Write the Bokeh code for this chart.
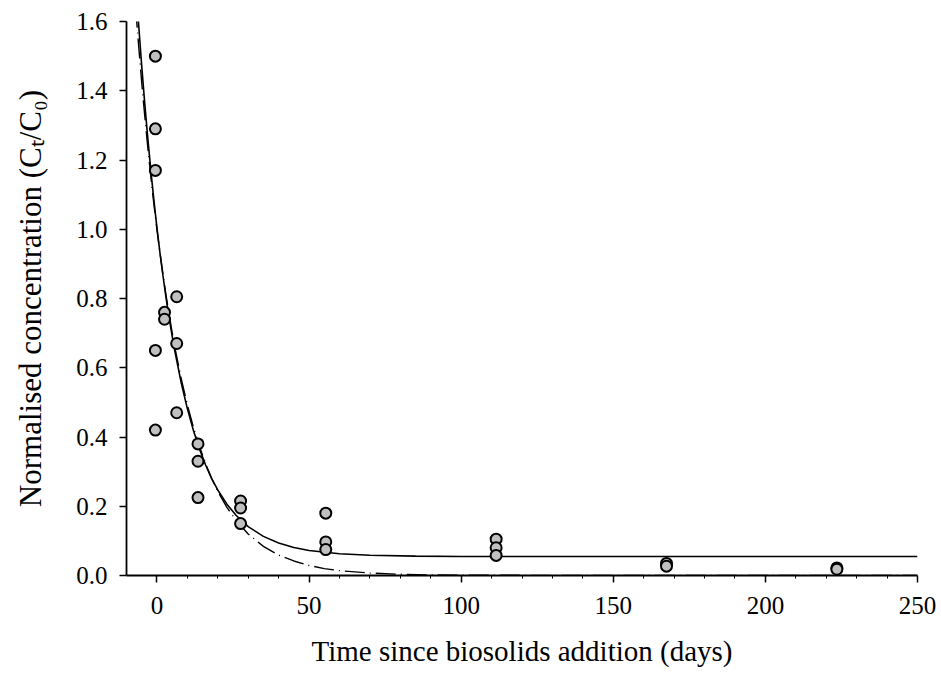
from bokeh.plotting import figure
from bokeh.models import Range1d, FixedTicker, PrintfTickFormatter
from bokeh.embed import file_html
from bokeh.resources import INLINE

# Measured data points (days, Ct/C0)
point_days = [-0.5, -0.5, -0.5, -0.5, -0.5,
              2.5, 2.5,
              6.5, 6.5, 6.5,
              13.5, 13.5, 13.5,
              27.5, 27.5, 27.5,
              55.5, 55.5, 55.5,
              111.5, 111.5, 111.5,
              167.5, 167.5,
              223.5, 223.5]
point_vals = [1.50, 1.29, 1.17, 0.65, 0.42,
              0.76, 0.74,
              0.805, 0.67, 0.47,
              0.38, 0.33, 0.225,
              0.215, 0.195, 0.15,
              0.18, 0.097, 0.075,
              0.105, 0.08, 0.058,
              0.035, 0.027,
              0.022, 0.018]

# Fitted model curve with plateau (solid)
solid_days = [-7, -6, -5, -4, -3, -2, -1, 0, 1, 2, 3, 4, 5, 6, 8, 10, 12, 14, 16, 18,
              20, 23, 26, 30, 35, 40, 45, 50, 60, 70, 85, 100, 150, 200, 250]
solid_vals = [1.718, 1.590, 1.472, 1.363, 1.263, 1.170, 1.084, 1.005, 0.932, 0.865,
              0.802, 0.745, 0.692, 0.643, 0.556, 0.482, 0.419, 0.365, 0.319, 0.280,
              0.247, 0.206, 0.174, 0.141, 0.113, 0.094, 0.081, 0.072, 0.063, 0.0585,
              0.056, 0.055, 0.055, 0.055, 0.055]

# First-order decay curve (dashed)
dash_days = [-7, -6, -5, -4, -3, -2, -1, 0, 1, 2, 3, 4, 5, 6, 8, 10, 12, 14, 16, 18,
             20, 23, 26, 30, 35, 40, 45, 50, 55, 60, 70, 80, 90, 100, 150, 250]
dash_vals = [1.640, 1.529, 1.424, 1.327, 1.236, 1.152, 1.073, 1.000, 0.932, 0.868,
             0.809, 0.754, 0.702, 0.654, 0.568, 0.493, 0.428, 0.372, 0.323, 0.280,
             0.243, 0.197, 0.159, 0.120, 0.084, 0.059, 0.042, 0.029, 0.020, 0.014,
             0.007, 0.0035, 0.0017, 0.0009, 0.0, 0.0]

x_major = [0, 50, 100, 150, 200, 250]
x_minor = [10, 20, 30, 40, 60, 70, 80, 90, 110, 120, 130, 140, 160, 170, 180, 190,
           210, 220, 230, 240]
y_major = [0.0, 0.2, 0.4, 0.6, 0.8, 1.0, 1.2, 1.4, 1.6]

FONT = "Liberation Serif"

p = figure(width=941, height=682, output_backend="svg", toolbar_location=None,
           x_range=Range1d(-10, 250), y_range=Range1d(0, 1.6),
           min_border_left=126, min_border_right=24, min_border_top=21,
           min_border_bottom=107)
p.outline_line_color = None
p.xgrid.visible = False
p.ygrid.visible = False
p.background_fill_color = "white"
p.border_fill_color = "white"

p.line(dash_days, dash_vals, line_color="black", line_width=1.4, line_dash="20 5 1 5")
p.line(solid_days, solid_vals, line_color="black", line_width=1.6)
p.scatter(point_days, point_vals, marker="circle", size=11,
          fill_color="#c0c0c0", line_color="black", line_width=2)

xa = p.xaxis[0]
xa.ticker = FixedTicker(ticks=x_major, minor_ticks=x_minor)
xa.axis_label = "Time since biosolids addition (days)"
ya = p.yaxis[0]
ya.ticker = FixedTicker(ticks=y_major)
ya.formatter = PrintfTickFormatter(format="%.1f")
ya.axis_label = "Normalised concentration (C\u209c/C\u2080)"

for ax in (xa, ya):
    ax.axis_line_color = "black"
    ax.axis_line_width = 1.8
    ax.major_tick_line_color = "black"
    ax.major_tick_line_width = 1.5
    ax.major_tick_in = 0
    ax.major_tick_out = 7
    ax.minor_tick_in = 0
    ax.minor_tick_out = 3
    ax.minor_tick_line_color = "black"
    ax.major_label_text_font = FONT
    ax.major_label_text_font_size = "25px"
    ax.major_label_text_color = "black"
    ax.axis_label_text_font = FONT
    ax.axis_label_text_font_size = "29px"
    ax.axis_label_text_font_style = "normal"
    ax.axis_label_text_color = "black"

ya.axis_label_text_font_size = "31px"
ya.minor_tick_line_color = None
xa.major_label_standoff = 14
xa.axis_label_standoff = 18
ya.major_label_standoff = 12
ya.axis_label_standoff = 25

open("out.html", "w").write(file_html(p, INLINE))
